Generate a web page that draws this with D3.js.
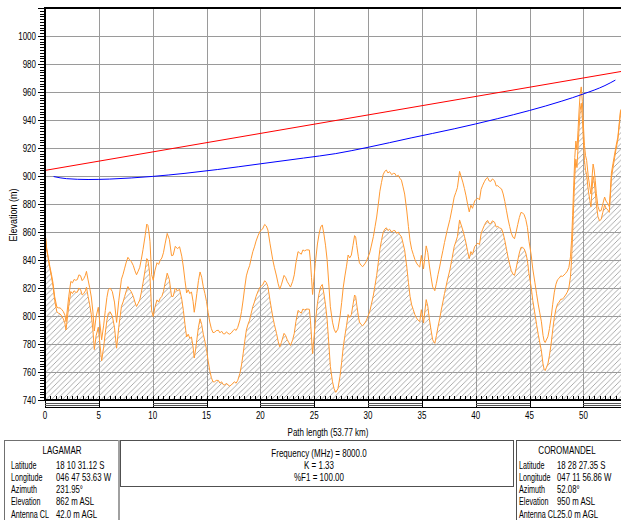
<!DOCTYPE html>
<html><head><meta charset="utf-8">
<script src="https://cdn.jsdelivr.net/npm/d3@7"></script>
<style>
html,body{margin:0;padding:0;background:#fff;}
svg{display:block;}
text{font-family:"Liberation Sans",Arial,sans-serif;font-size:10px;fill:#000;}
</style></head><body>
<svg id="c" width="621" height="520"></svg>
<script>
// ---- data ----
const distKm = [0,0.15,0.3,0.45,0.6,0.75,0.9,1.1,1.25,1.4,1.55,1.7,1.85,1.95,2.1,2.2,2.4,2.55,2.7,2.85,3.0,3.15,3.3,3.45,3.6,3.75,3.85,4.0,4.15,4.3,4.45,4.58,4.75,4.95,5.1,5.26,5.45,5.6,5.75,5.88,6.05,6.25,6.45,6.65,6.85,7.1,7.25,7.4,7.55,7.7,7.85,8.0,8.2,8.35,8.5,8.65,8.8,8.95,9.1,9.3,9.45,9.55,9.65,9.75,9.9,10.05,10.2,10.4,10.55,10.7,10.85,11.0,11.15,11.35,11.55,11.75,11.9,12.1,12.3,12.5,12.7,12.85,13.0,13.15,13.3,13.45,13.6,13.75,13.86,14.0,14.1,14.25,14.4,14.55,14.7,14.85,15.0,15.15,15.3,15.45,15.6,15.75,15.9,16.1,16.25,16.4,16.55,16.7,16.85,17.0,17.15,17.3,17.45,17.6,17.75,17.9,18.1,18.25,18.4,18.55,18.7,18.85,19.0,19.15,19.3,19.45,19.6,19.8,20.0,20.2,20.4,20.55,20.7,20.9,21.15,21.3,21.5,21.65,21.8,21.95,22.1,22.2,22.35,22.5,22.65,22.8,23.0,23.15,23.3,23.5,23.65,23.8,23.95,24.1,24.3,24.55,24.65,24.75,24.85,24.95,25.1,25.3,25.45,25.6,25.75,25.9,26.05,26.2,26.35,26.5,26.7,26.85,27.0,27.2,27.4,27.55,27.7,27.85,28.0,28.15,28.3,28.45,28.6,28.75,28.85,28.95,29.1,29.2,29.35,29.5,29.7,29.85,30.0,30.15,30.3,30.5,30.65,30.8,30.95,31.1,31.25,31.4,31.55,31.7,31.85,32.0,32.2,32.35,32.5,32.65,32.8,32.95,33.1,33.25,33.4,33.6,33.75,33.9,34.05,34.2,34.35,34.5,34.65,34.8,34.95,35.05,35.15,35.3,35.4,35.55,35.7,35.85,36.0,36.2,36.35,36.5,36.65,36.8,36.95,37.1,37.35,37.6,37.8,38.0,38.15,38.3,38.5,38.65,38.8,38.95,39.1,39.25,39.4,39.55,39.7,39.9,40.05,40.2,40.35,40.5,40.65,40.8,40.95,41.1,41.25,41.4,41.55,41.75,41.9,42.05,42.2,42.4,42.55,42.7,42.85,43.0,43.15,43.3,43.45,43.6,43.75,43.9,44.05,44.2,44.35,44.5,44.65,44.8,44.95,45.15,45.3,45.5,45.65,45.8,45.95,46.1,46.25,46.35,46.45,46.55,46.7,46.85,47.0,47.15,47.3,47.45,47.6,47.75,47.9,48.05,48.2,48.35,48.5,48.65,48.8,48.9,49.0,49.1,49.2,49.3,49.4,49.5,49.6,49.7,49.8,49.9,50.0,50.1,50.2,50.3,50.45,50.6,50.7,50.8,50.9,51.0,51.1,51.2,51.35,51.5,51.65,51.8,51.97,52.1,52.3,52.4,52.5,52.6,52.75,52.9,53.05,53.2,53.35,53.45,53.6,53.77];
const terrainM = [860,848,841,834,828,821,811,803,802,801.5,800,798,795,790,800,807,817.5,816,818,817,817,820,819,815,816,818,820.5,814,808,801,790,776,786,792,780,768,778,788,797,802,803,800,792,777,792,806.8,810,814,818,821,819,817.5,814,810,806.8,809,811.5,817,823.5,833,841,840,835,828,804,799.6,806,811.5,810,812.7,814,817.5,823.5,830.6,826,814,814,820,818,819,812,804,794,785,787,784,785,778,770,777,783,792,798,794,787,782,776,768,761,756,753,753,754,754,752,753,751,750.7,752,750.7,750,750.7,752,753,752,754,759,765,773,782,790,794,797,802,806.7,810,814,818,821,822,825.2,824,821,811,799.5,794,787.6,782,778,781,785,787.6,786,783,781,779,783,787.6,796,804,803,802,805,804.3,805,804.8,797,785,773,782,795,809,816,821,822.5,816,808,797.6,781,764,753,748,745.5,748,757,767,778,786,793,801,799,801,808,815,814,808,800,795.7,794,793,795,797,800,803,808,815,822,829,838,847.6,854,859.5,862,863,861,862,860,861,861,859,860,858,856.7,852,847,835,824,814,808,804.5,801,798.6,797,796,804.5,800,795,805,811.7,807,797.6,790,783,780.5,786,792.4,798,804.3,810,816,825,833,841,849.5,853,856.7,868.6,865,861.4,857,852,846,841,846,844,849.5,851,852,851,858.8,862,864.7,867,868.3,866,866,868,867,863.5,864,863,862.3,859,854,848,842,837,832.5,830,829,834,839.7,845,849,849,848,845,839.7,830,820.6,811,801.5,794,787,781,775,765.7,762,761,763,765.7,772,780,790,799,805,808.6,810,812,812,813.4,815,817,820,828,840,858,880,900,912,906,920,935,947,952,942,925,911,904,901,890,882.5,878,890,900,896,889,880,871,868,869,874,879.5,877,875.5,874,885,898.5,906,913,920,926,938,946,948,950];
// earth bulge (K = 1.33) added to terrain for the upper profile
const bulgeKm = [0,2,4,6,8,10,12,14,16,18,20,22,24,26,28,30,32,34,36,38,40,42,44,46,48,50,52,53.77];
const bulgeM  = [0,6.1,11.8,16.9,21.6,25.8,29.6,32.9,35.7,38.0,39.9,41.3,42.2,42.6,42.6,42.1,41.1,39.7,37.8,35.4,32.5,29.2,25.4,21.1,16.4,11.1,5.4,0];
// line of sight (red)
const losKm = [0,53.77];
const losM  = [904,975];
// first Fresnel zone lower edge (blue)
const fresKm = [0.8,2,4,6,8,10,13,16,20,24,27,30,34,38,42,45,48,50,52,52.97];
const fresM  = [899.6,898.1,897.5,897.8,898.6,899.7,901.9,904.6,908.7,912.8,916,920.5,927.2,933.7,940.9,946.8,953.5,958.6,964.6,968.5];
const yTickLabels = [740,760,780,800,820,840,860,880,900,920,940,960,980,1000];
const xTickLabels = [0,5,10,15,20,25,30,35,40,45,50];
const siteA = {name:"LAGAMAR", rows:[["Latitude","18 10 31.12 S"],["Longitude","046 47 53.63 W"],["Azimuth","231.95°"],["Elevation","862 m ASL"],["Antenna CL","42.0 m AGL"]]};
const siteB = {name:"COROMANDEL", rows:[["Latitude","18 28 27.35 S"],["Longitude","047 11 56.86 W"],["Azimuth","52.08°"],["Elevation","950 m ASL"],["Antenna CL","25.0 m AGL"]]};
const linkInfo = ["Frequency (MHz) = 8000.0","K = 1.33","%F1 = 100.00"];

// ---- chart ----
const svg = d3.select("#c");
const L = 45, T = 8, B = 400, R = 621;
const SX = 0.8; // condensed look of the original UI font
const x = d3.scaleLinear().domain([0,53.77]).range([L,624]);
const y = d3.scaleLinear().domain([740,1020]).range([B,T]);
const bulge = d3.scaleLinear().domain(bulgeKm).range(bulgeM);

function label(parent, tx, ty, str, anchor, extra, sx){
  return parent.append("text")
    .attr("transform",`translate(${tx},${ty})${extra||""} scale(${sx||SX},1)`)
    .attr("dy","0.35em").attr("text-anchor",anchor||"start").text(str);
}

const defs = svg.append("defs");
defs.append("pattern").attr("id","hatch").attr("patternUnits","userSpaceOnUse")
  .attr("width",5.5).attr("height",5.5)
  .append("path").attr("d","M-1,1 L1,-1 M0,5.5 L5.5,0 M4.5,6.5 L6.5,4.5")
  .attr("stroke","#a2a2a2").attr("stroke-width",0.9);
defs.append("clipPath").attr("id","plot").append("rect")
  .attr("x",L).attr("y",T).attr("width",R-L).attr("height",B-T);

// grid
const grid = svg.append("g").attr("shape-rendering","crispEdges");
d3.range(740,1021,20).forEach(v=>{
  grid.append("line").attr("x1",L).attr("x2",R).attr("y1",Math.round(y(v))+0.5).attr("y2",Math.round(y(v))+0.5)
    .attr("stroke","#9a9a9a").attr("stroke-width",1);
});
xTickLabels.slice(1).forEach(v=>{
  grid.append("line").attr("y1",T).attr("y2",B).attr("x1",Math.round(x(v))+0.5).attr("x2",Math.round(x(v))+0.5)
    .attr("stroke","#9a9a9a").attr("stroke-width",1);
});

const terr = distKm.map((d,i)=>({d, e:terrainM[i]}));
const g = svg.append("g").attr("clip-path","url(#plot)");
g.append("path").datum(terr)
  .attr("d", d3.area().x(p=>x(p.d)).y0(B).y1(p=>y(p.e)))
  .attr("fill","url(#hatch)");
g.append("path").datum(terr)
  .attr("d", d3.line().x(p=>x(p.d)).y(p=>y(p.e+bulge(p.d))))
  .attr("fill","none").attr("stroke","#ff9a33").attr("stroke-width",1);
g.append("path").datum(terr)
  .attr("d", d3.line().x(p=>x(p.d)).y(p=>y(p.e)))
  .attr("fill","none").attr("stroke","#ff9a33").attr("stroke-width",1);
g.append("path").datum(fresKm.map((d,i)=>[d,fresM[i]]))
  .attr("d", d3.line().x(p=>x(p[0])).y(p=>y(p[1])).curve(d3.curveMonotoneX))
  .attr("fill","none").attr("stroke","#0000ff").attr("stroke-width",1);
g.append("path").datum(losKm.map((d,i)=>[d,losM[i]]))
  .attr("d", d3.line().x(p=>x(p[0])).y(p=>y(p[1])))
  .attr("fill","none").attr("stroke","#ff0000").attr("stroke-width",1);

// axes frame
const ax = svg.append("g").attr("shape-rendering","crispEdges");
ax.append("line").attr("x1",L).attr("x2",R).attr("y1",T).attr("y2",T).attr("stroke","#000").attr("stroke-width",2);
ax.append("line").attr("x1",L).attr("x2",L).attr("y1",T-1).attr("y2",B+1).attr("stroke","#000").attr("stroke-width",2);
ax.append("line").attr("x1",L).attr("x2",R).attr("y1",B).attr("y2",B).attr("stroke","#000").attr("stroke-width",2);
// y ticks
d3.range(740,1021,2).forEach(v=>{
  const major = v%20===0;
  ax.append("line").attr("x1",major?38:40).attr("x2",L).attr("y1",Math.round(y(v))+0.5).attr("y2",Math.round(y(v))+0.5)
    .attr("stroke","#000").attr("stroke-width",1);
});
const tl = svg.append("g");
yTickLabels.forEach(v=>label(tl, 36, y(v), v, "end"));
// x minor ticks
d3.range(0,53.8,0.5).forEach(v=>{
  ax.append("line").attr("x1",Math.round(x(v))+0.5).attr("x2",Math.round(x(v))+0.5).attr("y1",396).attr("y2",B)
    .attr("stroke","#000").attr("stroke-width",1);
});
// scale bar
ax.append("line").attr("x1",L).attr("x2",R).attr("y1",407.5).attr("y2",407.5).attr("stroke","#000").attr("stroke-width",1);
xTickLabels.forEach((v,i)=>{
  ax.append("line").attr("x1",Math.round(x(v))+0.5).attr("x2",Math.round(x(v))+0.5).attr("y1",B).attr("y2",408)
    .attr("stroke","#000").attr("stroke-width",1);
  if(i%2===0){
    const x2 = Math.min(R, x(v+5));
    [403.5,405.5].forEach(yy=>ax.append("line").attr("x1",x(v)).attr("x2",x2).attr("y1",yy).attr("y2",yy)
      .attr("stroke","#555").attr("stroke-width",1));
  }
});
xTickLabels.forEach(v=>label(tl, x(v), 415, v, "middle"));
label(tl, 328, 432, "Path length (53.77 km)", "middle");
label(tl, 13, 215, "Elevation (m)", "middle", " rotate(-90)", 0.9);

// info panels
const panel = svg.append("g").attr("shape-rendering","crispEdges");
panel.append("rect").attr("x",4.5).attr("y",440.5).attr("width",114).attr("height",100).attr("fill","none").attr("stroke","#707070");
panel.append("line").attr("x1",118.5).attr("x2",118.5).attr("y1",440).attr("y2",520).attr("stroke","#a0a0a0").attr("stroke-width",2);
panel.append("rect").attr("x",120.5).attr("y",440.5).attr("width",393).attr("height",46).attr("fill","none").attr("stroke","#505050");
panel.append("rect").attr("x",516.5).attr("y",440.5).attr("width",120).attr("height",100).attr("fill","none").attr("stroke","#505050");

function site(s, cx, lx, vx){
  label(svg, cx, 450, s.name, "middle");
  s.rows.forEach((r,i)=>{
    const yy = 465 + i*12.3;
    label(svg, lx, yy, r[0], "start", "", 0.72);
    label(svg, vx, yy, r[1], "start", "", 0.78);
  });
}
site(siteA, 62, 11, 56);
site(siteB, 567, 519, 557);
linkInfo.forEach((t,i)=>label(svg, 319, 453+i*12, t, "middle"));
</script></body></html>
